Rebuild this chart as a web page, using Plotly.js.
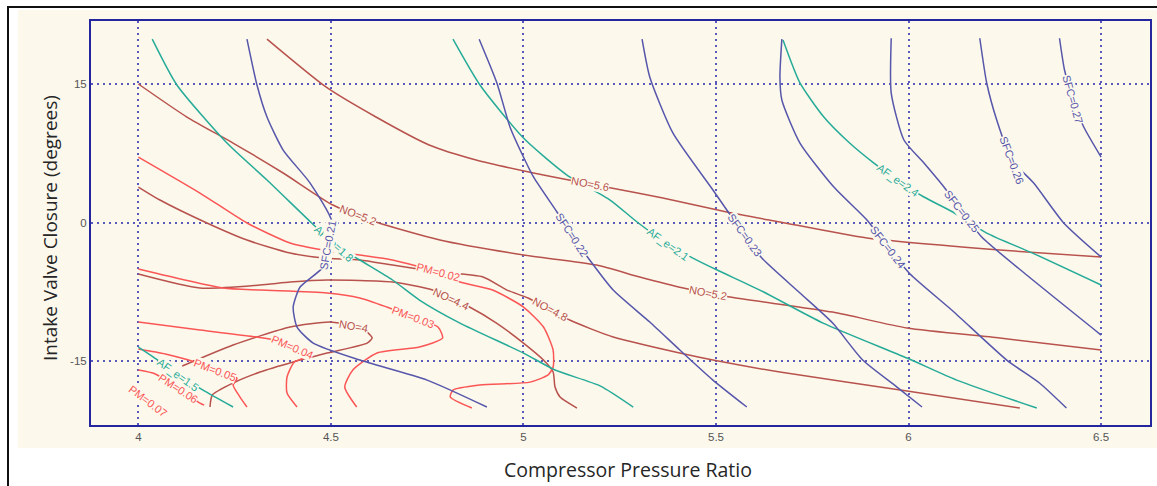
<!DOCTYPE html>
<html>
<head>
<meta charset="utf-8">
<script src="https://cdn.plot.ly/plotly-3.0.1.min.js"></script>
<style>
  html, body { margin: 0; padding: 0; background: #ffffff; }
  #wrap { position: relative; width: 1157px; height: 486px; overflow: hidden; }
  #frame { position: absolute; left: 7px; top: 6px; width: 1200px; height: 600px;
           border-left: 2px solid #111; border-top: 2px solid #111; }
  #panel { position: absolute; left: 18px; top: 10px; width: 1139px; height: 438px; background: #fcf8ec; }
  #chart { position: absolute; left: 0; top: 0; width: 1157px; height: 486px; }
</style>
</head>
<body>
<div id="wrap"><div id="frame"></div><div id="panel"></div><div id="chart"></div></div>
<script>
// Engine map: contour lines over compressor pressure ratio (x) and intake valve closure (y)

const xTicks = [4, 4.5, 5, 5.5, 6, 6.5];
const xTickText = ['4', '4.5', '5', '5.5', '6', '6.5'];
const yTicks = [-15, 0, 15];
const yTickText = ['-15', '0', '15'];

// NO contours
const no56X = [4.334, 4.487, 4.617, 4.755, 4.877, 5.026, 5.118, 5.228, 5.362, 5.528, 5.666, 5.892, 6.237, 6.5];
const no56Y = [19.9, 14.72, 11.46, 8.43, 6.8, 5.39, 4.63, 3.76, 2.68, 1.16, 0.08, -1.66, -2.96, -3.72];
const no52X = [4.0, 4.126, 4.246, 4.376, 4.505, 4.617, 4.783, 5.0, 5.19, 5.302, 5.415, 5.536, 5.803, 5.996, 6.237, 6.5];
const no52Y = [15.04, 11.46, 8.64, 5.39, 1.92, 0.08, -1.88, -3.5, -4.59, -5.89, -7.08, -8.06, -9.69, -11.42, -12.5, -13.8];
const no48X = [4.0, 4.056, 4.178, 4.282, 4.394, 4.48, 4.575, 4.66, 4.783, 4.895, 4.957, 5.012, 5.12, 5.233, 5.406, 5.492, 5.666, 5.996, 6.289];
const no48Y = [3.87, 2.46, -0.03, -1.88, -3.29, -3.83, -4.04, -4.59, -5.35, -5.89, -7.3, -8.16, -10.55, -12.39, -14.13, -14.89, -16.19, -18.25, -20.09];
const no44X = [4.0, 4.16, 4.316, 4.394, 4.49, 4.66, 4.764, 4.86, 4.93, 5.0, 5.052, 5.077, 5.082, 5.095, 5.139];
const no44Y = [-5.56, -7.08, -6.75, -6.43, -6.21, -6.43, -7.3, -9.14, -10.88, -13.05, -14.89, -16.19, -17.82, -18.9, -20.09];
const no40X = [4.114, 4.246, 4.394, 4.498, 4.558, 4.594, 4.607, 4.594, 4.49, 4.402, 4.316, 4.246, 4.192, 4.186];
const no40Y = [-15.54, -13.26, -11.31, -10.77, -11.2, -11.86, -12.5, -13.05, -14.13, -15.1, -16.19, -17.38, -18.68, -19.98];

// PM contours
const pm02X = [4.0, 4.16, 4.282, 4.394, 4.48, 4.575, 4.66, 4.778, 4.835, 4.92, 5.0, 5.052, 5.077, 5.077, 5.064, 5.017, 4.887, 4.817, 4.81, 4.866];
const pm02Y = [7.12, 3.22, -0.03, -2.2, -2.96, -3.5, -4.04, -5.35, -6.43, -7.3, -9.14, -11.31, -13.8, -15.65, -16.5, -17.28, -17.6, -18.15, -18.9, -20.09];
const pm03X = [4.0, 4.22, 4.316, 4.49, 4.575, 4.645, 4.713, 4.778, 4.79, 4.73, 4.62, 4.557, 4.536, 4.567];
const pm03Y = [-5.02, -7.08, -7.3, -7.62, -8.16, -9.14, -10.22, -11.31, -12.5, -13.48, -14.13, -15.97, -17.82, -19.98];
const pm04X = [4.0, 4.16, 4.308, 4.355, 4.446, 4.405, 4.386, 4.386, 4.412];
const pm04Y = [-10.77, -11.64, -12.39, -12.72, -14.35, -15.1, -16.73, -18.47, -19.98];
const pm05X = [4.0, 4.07, 4.147, 4.256, 4.246, 4.264, 4.282];
const pm05Y = [-13.7, -14.24, -15.1, -16.84, -17.6, -18.9, -19.98];
const pm06X = [4.0, 4.044, 4.16, 4.171];
const pm06Y = [-15.97, -16.4, -19.55, -19.77];
const pm07X = [3.99, 4.06];
const pm07Y = [-18.2, -20.4];

// SFC contours
const sfc21X = [4.282, 4.308, 4.334, 4.376, 4.446, 4.503, 4.492, 4.48, 4.42, 4.402, 4.412, 4.454, 4.575, 4.75, 4.905];
const sfc21Y = [19.9, 14.93, 11.46, 7.88, 4.3, 0.08, -2.42, -4.8, -6.97, -9.14, -11.31, -13.05, -14.89, -17.06, -19.98];
const sfc22X = [4.885, 4.931, 4.965, 5.0, 5.026, 5.087, 5.126, 5.172, 5.233, 5.328, 5.406, 5.492, 5.58];
const sfc22Y = [19.9, 15.15, 10.38, 7.12, 4.96, 1.16, -1.33, -4.04, -7.3, -10.77, -13.8, -17.06, -19.98];
const sfc23X = [5.308, 5.328, 5.388, 5.492, 5.528, 5.575, 5.619, 5.718, 5.803, 5.881, 5.97, 6.035];
const sfc23Y = [19.9, 15.8, 9.73, 3.55, 1.38, -1.33, -3.83, -7.62, -10.88, -14.89, -17.82, -19.98];
const sfc24X = [5.671, 5.666, 5.671, 5.718, 5.806, 5.892, 5.946, 6.004, 6.115, 6.255, 6.34, 6.41];
const sfc24Y = [19.9, 15.8, 13.3, 8.64, 3.87, 0.29, -2.63, -5.56, -9.57, -14.89, -17.38, -20.09];
const sfc25X = [5.955, 5.955, 5.988, 6.04, 6.092, 6.138, 6.19, 6.31, 6.5];
const sfc25Y = [20.0, 14.06, 8.97, 6.47, 3.87, 1.27, -1.55, -5.78, -12.18];
const sfc26X = [6.185, 6.203, 6.229, 6.268, 6.325, 6.403, 6.5];
const sfc26Y = [20.0, 15.15, 11.14, 6.8, 4.3, -0.03, -3.72];
const sfc27X = [6.392, 6.405, 6.426, 6.455, 6.5];
const sfc27Y = [20.0, 16.56, 13.4, 10.38, 7.12];

// Air/fuel equivalence contours
const af15X = [4.0, 4.039, 4.104, 4.168, 4.246];
const af15Y = [-13.48, -14.56, -16.5, -18.15, -19.98];
const af18X = [4.036, 4.1, 4.23, 4.334, 4.45, 4.513, 4.575, 4.66, 4.73, 4.835, 5.0, 5.082, 5.2, 5.285];
const af18Y = [19.9, 14.93, 8.64, 4.63, -0.03, -2.42, -4.04, -6.21, -8.38, -10.88, -14.13, -15.97, -17.71, -19.98];
const af21X = [4.817, 4.887, 5.0, 5.113, 5.225, 5.295, 5.375, 5.44, 5.503, 5.614, 5.778, 5.996, 6.125, 6.333];
const af21Y = [19.9, 14.93, 9.18, 5.17, 2.46, 0.08, -2.31, -3.83, -5.13, -7.3, -10.88, -14.67, -17.06, -20.09];
const af24X = [5.674, 5.718, 5.78, 5.847, 5.91, 5.972, 6.04, 6.115, 6.203, 6.322, 6.5];
const af24Y = [19.8, 15.15, 11.46, 8.64, 6.47, 4.63, 2.79, 1.16, -1.12, -3.29, -6.75];

// Where each contour carries its inline value label
const no56Labels = [[5.173, 4.0]];
const no52Labels = [[4.561, -0.2], [5.48, -7.62]];
const no48Labels = [[5.07, -9.25]];
const no44Labels = [[4.815, -8.06]];
const no40Labels = [[4.558, -11.2]];
const pm02Labels = [[4.778, -5.35]];
const pm03Labels = [[4.713, -10.2]];
const pm04Labels = [[4.4, -13.5]];
const pm05Labels = [[4.2, -15.9]];
const pm06Labels = [[4.103, -17.9]];
const pm07Labels = [[4.025, -19.3]];
const sfc21Labels = [[4.492, -2.42]];
const sfc22Labels = [[5.126, -1.33]];
const sfc23Labels = [[5.575, -1.33]];
const sfc24Labels = [[5.946, -2.63]];
const sfc25Labels = [[6.138, 1.27]];
const sfc26Labels = [[6.268, 6.8]];
const sfc27Labels = [[6.426, 13.4]];
const af15Labels = [[4.104, -16.5]];
const af18Labels = [[4.511, -2.2]];
const af21Labels = [[5.375, -2.31]];
const af24Labels = [[5.972, 4.63]];

const NO_COLOR = '#b8524d';
const PM_COLOR = '#fb5656';
const SFC_COLOR = '#5656ab';
const AF_COLOR = '#26ab98';
const BG = '#fcf8ec';

const contours = [
  { t: 'NO=5.6', x: no56X, y: no56Y, lab: no56Labels, c: NO_COLOR },
  { t: 'NO=5.2', x: no52X, y: no52Y, lab: no52Labels, c: NO_COLOR },
  { t: 'NO=4.8', x: no48X, y: no48Y, lab: no48Labels, c: NO_COLOR },
  { t: 'NO=4.4', x: no44X, y: no44Y, lab: no44Labels, c: NO_COLOR },
  { t: 'NO=4',   x: no40X, y: no40Y, lab: no40Labels, c: NO_COLOR },
  { t: 'PM=0.02', x: pm02X, y: pm02Y, lab: pm02Labels, c: PM_COLOR },
  { t: 'PM=0.03', x: pm03X, y: pm03Y, lab: pm03Labels, c: PM_COLOR },
  { t: 'PM=0.04', x: pm04X, y: pm04Y, lab: pm04Labels, c: PM_COLOR },
  { t: 'PM=0.05', x: pm05X, y: pm05Y, lab: pm05Labels, c: PM_COLOR },
  { t: 'PM=0.06', x: pm06X, y: pm06Y, lab: pm06Labels, c: PM_COLOR },
  { t: 'PM=0.07', x: pm07X, y: pm07Y, lab: pm07Labels, c: PM_COLOR },
  { t: 'AF_e=1.5', x: af15X, y: af15Y, lab: af15Labels, c: AF_COLOR },
  { t: 'AF_e=1.8', x: af18X, y: af18Y, lab: af18Labels, c: AF_COLOR },
  { t: 'AF_e=2.1', x: af21X, y: af21Y, lab: af21Labels, c: AF_COLOR },
  { t: 'AF_e=2.4', x: af24X, y: af24Y, lab: af24Labels, c: AF_COLOR },
  { t: 'SFC=0.21', x: sfc21X, y: sfc21Y, lab: sfc21Labels, c: SFC_COLOR },
  { t: 'SFC=0.22', x: sfc22X, y: sfc22Y, lab: sfc22Labels, c: SFC_COLOR },
  { t: 'SFC=0.23', x: sfc23X, y: sfc23Y, lab: sfc23Labels, c: SFC_COLOR },
  { t: 'SFC=0.24', x: sfc24X, y: sfc24Y, lab: sfc24Labels, c: SFC_COLOR },
  { t: 'SFC=0.25', x: sfc25X, y: sfc25Y, lab: sfc25Labels, c: SFC_COLOR },
  { t: 'SFC=0.26', x: sfc26X, y: sfc26Y, lab: sfc26Labels, c: SFC_COLOR },
  { t: 'SFC=0.27', x: sfc27X, y: sfc27Y, lab: sfc27Labels, c: SFC_COLOR }
];

// Plot geometry, used to orient labels along their lines on screen
const M = { l: 91, r: 7, t: 21, b: 61 };
const XR = [3.877, 6.627];
const YR = [-21.93, 21.87];
const kx = (1157 - M.l - M.r) / (XR[1] - XR[0]);
const ky = (486 - M.t - M.b) / (YR[1] - YR[0]);

function onCurve(xs, ys, p) {
  let best = null;
  const px = p[0] * kx, py = -p[1] * ky;
  for (let i = 0; i < xs.length - 1; i++) {
    const ax = xs[i] * kx, ay = -ys[i] * ky;
    const bx = xs[i + 1] * kx, by = -ys[i + 1] * ky;
    const dx = bx - ax, dy = by - ay;
    const len2 = dx * dx + dy * dy || 1;
    let t = ((px - ax) * dx + (py - ay) * dy) / len2;
    t = Math.max(0, Math.min(1, t));
    const cx = ax + t * dx, cy = ay + t * dy;
    const d = (px - cx) ** 2 + (py - cy) ** 2;
    if (!best || d < best.d) {
      let a = Math.atan2(dy, dx) * 180 / Math.PI;
      if (a > 90) a -= 180;
      if (a < -90) a += 180;
      best = { d: d, x: cx / kx, y: -cy / ky, a: a };
    }
  }
  return best;
}

const traces = contours.map(c => ({
  type: 'scatter', mode: 'lines', x: c.x, y: c.y,
  line: { color: c.c, width: 1.5, shape: 'spline', smoothing: 0.6 },
  hoverinfo: 'skip'
}));

const annotations = [];
contours.forEach(c => {
  c.lab.forEach(p => {
    const q = onCurve(c.x, c.y, p);
    annotations.push({
      xref: 'x', yref: 'y', x: q.x, y: q.y, text: c.t, showarrow: false,
      textangle: q.a, xanchor: 'center', yanchor: 'middle',
      font: { family: 'Liberation Sans, Arial, sans-serif', size: 11, color: c.c },
      bgcolor: BG, borderpad: 0
    });
  });
});

annotations.push({
  xref: 'paper', yref: 'paper', x: -0.0387, y: 0.4876, xanchor: 'center', yanchor: 'middle',
  text: 'Intake Valve Closure (degrees)', textangle: -90, showarrow: false,
  font: { family: 'Open Sans, Noto Sans, sans-serif', size: 19, color: '#262626' }
});
annotations.push({
  xref: 'paper', yref: 'paper', x: 0.507, y: -0.111, xanchor: 'center', yanchor: 'middle',
  text: 'Compressor Pressure Ratio', showarrow: false,
  font: { family: 'Open Sans, Noto Sans, sans-serif', size: 19.5, color: '#262626' }
});

const axisCommon = {
  showline: true, linecolor: '#25259e', linewidth: 2, mirror: true,
  showgrid: true, gridcolor: '#5a5abd', gridwidth: 2, griddash: '2px,4px',
  zeroline: false, ticks: '', tickmode: 'array',
  tickfont: { family: 'Liberation Sans, Arial, sans-serif', size: 11.5, color: '#555555' },
  fixedrange: true
};

const layout = {
  width: 1157, height: 486,
  margin: M,
  paper_bgcolor: 'rgba(0,0,0,0)',
  plot_bgcolor: 'rgba(0,0,0,0)',
  showlegend: false,
  hovermode: false,
  xaxis: Object.assign({}, axisCommon, { range: XR, tickvals: xTicks, ticktext: xTickText }),
  yaxis: Object.assign({}, axisCommon, { range: YR, tickvals: yTicks, ticktext: yTickText }),
  annotations: annotations
};

Plotly.newPlot('chart', traces, layout, { staticPlot: true, displayModeBar: false });
</script>
</body>
</html>
